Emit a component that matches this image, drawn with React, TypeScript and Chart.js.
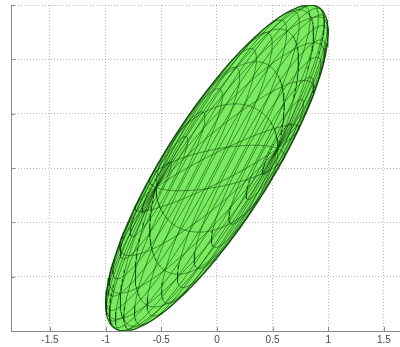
import React, { useEffect, useRef } from "react";
import { Chart, registerables } from "chart.js";

Chart.register(...registerables);

// Axis ticks
const X_TICKS = [-1.5, -1, -0.5, 0, 0.5, 1, 1.5];
const X_TICK_LABELS = ["-1.5", "-1", "-0.5", "0", "0.5", "1", "1.5"];
const Y_TICKS = [-1.5, -1, -0.5, 0, 0.5, 1, 1.5];
const X_RANGE = [-1.85, 1.645];
const Y_RANGE = [-1.5, 1.5];

// Ellipsoid outline: centre, semi-axes (major, minor) and direction of the major axis
const CENTER = [0, 0];
const SEMI_AXES = [1.739, 0.477];
const MAJOR_AXIS_DEG = 58.3;
// Orientation of the surface mesh poles: tilt towards the viewer and turn in the plane
const POLE_TILT_DEG = 35;
const POLE_TURN_DEG = 18;
const LON_OFFSET_DEG = 9;
const MESH_N = 20; // mesh lines per direction
const LINE_SAMPLES = 120; // points along each mesh line
const OUTLINE_STEPS = 180;

const FACE_COLOR = "rgb(120, 236, 94)";
const EDGE_COLOR = "rgba(10, 60, 5, 0.6)";
const OUTLINE_COLOR = "rgba(10, 70, 5, 0.75)";

type Pt = { x: number; y: number };

const rad = (d: number) => (d * Math.PI) / 180;

// stretch in-plane sphere coordinates onto the ellipse axes
function toPlot(gMaj: number, gMin: number): Pt {
  const a = rad(MAJOR_AXIS_DEG);
  const u = SEMI_AXES[0] * gMaj;
  const v = SEMI_AXES[1] * gMin;
  return {
    x: CENTER[0] + u * Math.cos(a) - v * Math.sin(a),
    y: CENTER[1] + u * Math.sin(a) + v * Math.cos(a),
  };
}

function project(lat: number, lon: number): Pt {
  // unit-sphere point
  const sx = Math.cos(lat) * Math.cos(lon);
  const sy = Math.cos(lat) * Math.sin(lon);
  const sz = Math.sin(lat);
  // tip the poles over so they sit near the minor axis, slightly towards the viewer
  const th = rad(90 - POLE_TILT_DEG);
  const x1 = sx;
  const y1 = sy * Math.cos(th) - sz * Math.sin(th);
  // turn in the plane
  const b = rad(POLE_TURN_DEG);
  return toPlot(x1 * Math.cos(b) - y1 * Math.sin(b), x1 * Math.sin(b) + y1 * Math.cos(b));
}

function meridian(j: number): Pt[] {
  const lon = rad(LON_OFFSET_DEG) + (2 * Math.PI * j) / MESH_N;
  const pts: Pt[] = [];
  for (let k = 0; k <= LINE_SAMPLES; k++) {
    pts.push(project(-Math.PI / 2 + (Math.PI * k) / LINE_SAMPLES, lon));
  }
  return pts;
}

function parallel(i: number): Pt[] {
  const lat = -Math.PI / 2 + (Math.PI * i) / MESH_N;
  const pts: Pt[] = [];
  for (let k = 0; k <= LINE_SAMPLES; k++) {
    pts.push(project(lat, (2 * Math.PI * k) / LINE_SAMPLES));
  }
  return pts;
}

function outline(): Pt[] {
  const pts: Pt[] = [];
  for (let k = 0; k <= OUTLINE_STEPS; k++) {
    const t = (2 * Math.PI * k) / OUTLINE_STEPS;
    pts.push(toPlot(Math.cos(t), Math.sin(t)));
  }
  return pts;
}

function buildDatasets() {
  const lines: any[] = [];
  const lineDs = (data: Pt[]) => ({
    data,
    borderColor: EDGE_COLOR,
    borderWidth: 0.9,
    pointRadius: 0,
    fill: false,
    tension: 0,
    order: 0,
  });

  for (let j = 0; j < MESH_N; j++) lines.push(lineDs(meridian(j)));
  for (let i = 1; i < MESH_N; i++) lines.push(lineDs(parallel(i)));

  // filled body with its rim
  const body = {
    data: outline(),
    borderColor: OUTLINE_COLOR,
    borderWidth: 1.2,
    backgroundColor: FACE_COLOR,
    pointRadius: 0,
    fill: "shape",
    tension: 0,
    order: 1,
  };
  return [...lines, body];
}

const insideTicks = {
  id: "insideTicks",
  afterDraw(chart: any) {
    const { ctx, chartArea, scales } = chart;
    ctx.save();
    ctx.strokeStyle = "#8a8a8a";
    ctx.lineWidth = 1;
    ctx.beginPath();
    for (const v of Y_TICKS) {
      const py = Math.round(scales.y.getPixelForValue(v)) + 0.5;
      ctx.moveTo(chartArea.left, py);
      ctx.lineTo(chartArea.left + 4, py);
    }
    for (const v of X_TICKS) {
      const px = Math.round(scales.x.getPixelForValue(v)) + 0.5;
      ctx.moveTo(px, chartArea.bottom);
      ctx.lineTo(px, chartArea.bottom - 4);
    }
    ctx.stroke();
    ctx.restore();
  },
};

export default function App() {
  const ref = useRef<HTMLCanvasElement | null>(null);

  useEffect(() => {
    if (!ref.current) return;
    const chart = new Chart(ref.current, {
      type: "line",
      data: { datasets: buildDatasets() },
      plugins: [insideTicks],
      options: {
        animation: false,
        responsive: false,
        events: [],
        layout: { padding: { top: 5, right: 0, left: 0, bottom: 0 } },
        plugins: {
          legend: { display: false },
          tooltip: { enabled: false },
          title: { display: false },
        },
        scales: {
          x: {
            type: "linear",
            min: X_RANGE[0],
            max: X_RANGE[1],
            afterBuildTicks: (s: any) => {
              s.ticks = X_TICKS.map((value) => ({ value }));
            },
            afterFit: (s: any) => {
              s.height = 16;
            },
            ticks: {
              autoSkip: false,
              maxRotation: 0,
              padding: 3,
              color: "#4a4a4a",
              font: { family: "Liberation Sans, Arial, sans-serif", size: 10 },
              callback: (v: any) => {
                const k = X_TICKS.indexOf(Number(v));
                return k >= 0 ? X_TICK_LABELS[k] : "";
              },
            },
            grid: {
              color: "rgba(0,0,0,0.28)",
              lineWidth: 1,
              drawTicks: false,
            },
            border: { display: true, color: "#8a8a8a", width: 1, dash: [1, 2] },
          },
          y: {
            type: "linear",
            min: Y_RANGE[0],
            max: Y_RANGE[1],
            afterBuildTicks: (s: any) => {
              s.ticks = Y_TICKS.map((value) => ({ value }));
            },
            afterFit: (s: any) => {
              s.width = 11;
            },
            ticks: { display: false },
            grid: {
              color: "rgba(0,0,0,0.28)",
              lineWidth: 1,
              drawTicks: false,
            },
            border: { display: true, color: "#8a8a8a", width: 1, dash: [1, 2] },
          },
        },
      },
    } as any);
    return () => chart.destroy();
  }, []);

  return (
    <div style={{ position: "absolute", left: 0, top: 0, width: 400, height: 347, background: "#fff" }}>
      <canvas ref={ref} width={400} height={347} style={{ display: "block" }} />
    </div>
  );
}
